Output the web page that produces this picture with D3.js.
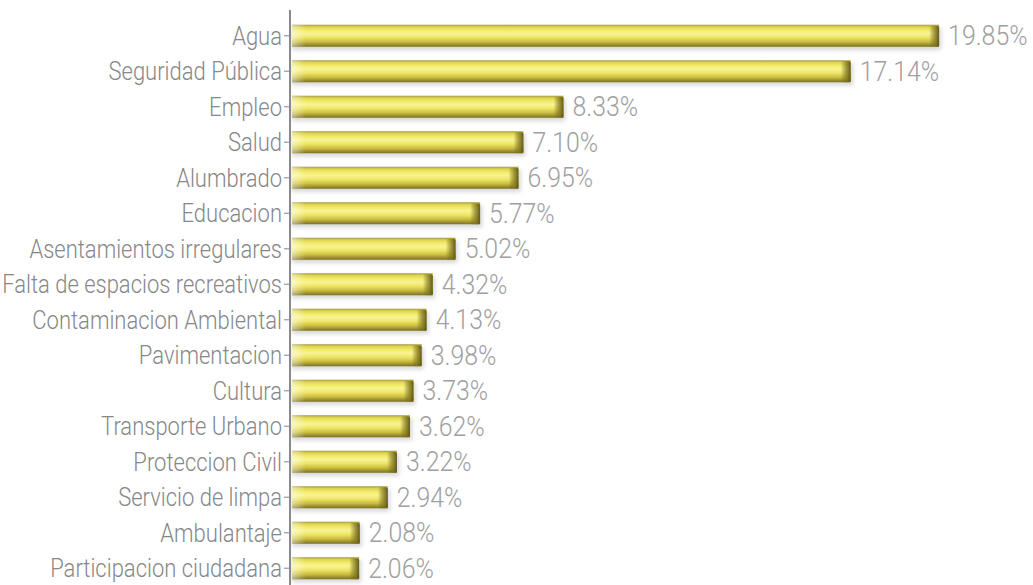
<!DOCTYPE html>
<html>
<head>
<meta charset="utf-8">
<script src="https://cdn.jsdelivr.net/npm/d3@7"></script>
<style>
  body { margin: 0; background: #fff; }
  svg { display: block; }
</style>
</head>
<body>
<svg id="chart" width="1033" height="585"></svg>
<script>
// categorias y porcentajes
const categories = ['Agua', 'Seguridad Pública', 'Empleo', 'Salud', 'Alumbrado', 'Educacion',
    'Asentamientos irregulares', 'Falta de espacios recreativos', 'Contaminacion Ambiental',
    'Pavimentacion', 'Cultura', 'Transporte Urbano', 'Proteccion Civil', 'Servicio de limpa',
    'Ambulantaje', 'Participacion ciudadana'];
const values = [19.85, 17.14, 8.33, 7.10, 6.95, 5.77, 5.02, 4.32, 4.13, 3.98, 3.73, 3.62, 3.22, 2.94, 2.08, 2.06];
const valueLabels = ['19.85%', '17.14%', '8.33%', '7.10%', '6.95%', '5.77%', '5.02%', '4.32%', '4.13%',
    '3.98%', '3.73%', '3.62%', '3.22%', '2.94%', '2.08%', '2.06%'];

const data = categories.map((c, i) => ({cat: c, v: values[i], label: valueLabels[i]}));

let svg = d3.select('#chart');
let width = 1033, height = 585;
let fontFam = 'Roboto, "Liberation Sans", sans-serif';

// escalas
let x = d3.scaleLinear().domain([0, 20]).range([292, 944]);
let y = d3.scaleBand().domain(categories).range([18, 586]).paddingInner(0.38).paddingOuter(0.19);

let defs = svg.append('defs');
// gradiente vertical de la barra (efecto cilindro)
let g1 = defs.append('linearGradient').attr('id', 'barGrad')
    .attr('x1', 0).attr('y1', 0).attr('x2', 0).attr('y2', 1);
[[0, '#a39a3c'], [0.1, '#ddd453'], [0.25, '#f3ec68'], [0.4, '#f8f396'], [0.58, '#eee565'],
 [0.78, '#c9bc40'], [1, '#7a6f24']].forEach(s => g1.append('stop').attr('offset', s[0]).attr('stop-color', s[1]));
// gradiente de la tapa derecha
let g2 = defs.append('linearGradient').attr('id', 'capGrad')
    .attr('x1', 0).attr('y1', 0).attr('x2', 1).attr('y2', 0);
g2.append('stop').attr('offset', 0).attr('stop-color', '#6b6118').attr('stop-opacity', 0);
g2.append('stop').attr('offset', 0.6).attr('stop-color', '#7d7220').attr('stop-opacity', 0.75);
g2.append('stop').attr('offset', 1).attr('stop-color', '#5a5214').attr('stop-opacity', 0.95);
// brillo blanco en el extremo izquierdo
let g3 = defs.append('linearGradient').attr('id', 'leftGrad')
    .attr('x1', 0).attr('y1', 0).attr('x2', 1).attr('y2', 0);
g3.append('stop').attr('offset', 0).attr('stop-color', '#fff').attr('stop-opacity', 0.45);
g3.append('stop').attr('offset', 1).attr('stop-color', '#fff').attr('stop-opacity', 0);
// sombra
let f = defs.append('filter').attr('id', 'blur').attr('x', '-10%').attr('y', '-50%').attr('width', '120%').attr('height', '200%');
f.append('feGaussianBlur').attr('stdDeviation', 2);

let bh = y.bandwidth();

let bars = svg.append('g').selectAll('g').data(data).join('g');

bars.append('rect')
    .attr('x', x(0))
    .attr('y', d => y(d.cat) + 3)
    .attr('width', d => x(d.v) - x(0) + 2)
    .attr('height', bh)
    .attr('fill', '#777')
    .attr('opacity', 0.3)
    .attr('filter', 'url(#blur)');

bars.append('rect')
    .attr('x', x(0))
    .attr('y', d => y(d.cat))
    .attr('width', d => x(d.v) - x(0))
    .attr('height', bh)
    .attr('fill', 'url(#barGrad)');

bars.append('rect')
    .attr('x', x(0))
    .attr('y', d => y(d.cat))
    .attr('width', 14)
    .attr('height', bh)
    .attr('fill', 'url(#leftGrad)');

bars.append('rect')
    .attr('x', d => x(d.v) - 10)
    .attr('y', d => y(d.cat) + 1)
    .attr('width', 10)
    .attr('height', bh - 1)
    .attr('rx', 2)
    .attr('fill', 'url(#capGrad)');

// comprime el texto horizontalmente (fuente condensada)
function condense(sel, k) {
    sel.each(function () {
        let w = this.getComputedTextLength();
        d3.select(this).attr('textLength', w * k).attr('lengthAdjust', 'spacingAndGlyphs');
    });
}

// eje
let axis = svg.append('g')
    .attr('transform', 'translate(' + 290 + ',0)')
    .call(d3.axisLeft(y).tickSize(6).tickSizeOuter(0).tickPadding(2));
axis.select('.domain').remove();
axis.selectAll('.tick line').attr('stroke', '#999').attr('stroke-width', 1.2);
axis.selectAll('.tick text')
    .attr('fill', '#878787')
    .style('font-family', fontFam)
    .style('font-weight', 300)
    .style('font-size', '25px')
    .attr('dy', '0.35em')
    .call(condense, 0.88);
svg.append('line')
    .attr('x1', 290).attr('x2', 290)
    .attr('y1', 10).attr('y2', height)
    .attr('stroke', '#8a8a8a').attr('stroke-width', 2);

// etiquetas de valor
bars.append('text')
    .attr('x', d => x(d.v) + 9)
    .attr('y', d => y(d.cat) + bh / 2)
    .attr('dy', '0.36em')
    .attr('fill', '#a0a0a0')
    .style('font-family', fontFam)
    .style('font-weight', 300)
    .style('font-size', '27px')
    .text(d => d.label)
    .call(condense, 0.92);
</script>
</body>
</html>
